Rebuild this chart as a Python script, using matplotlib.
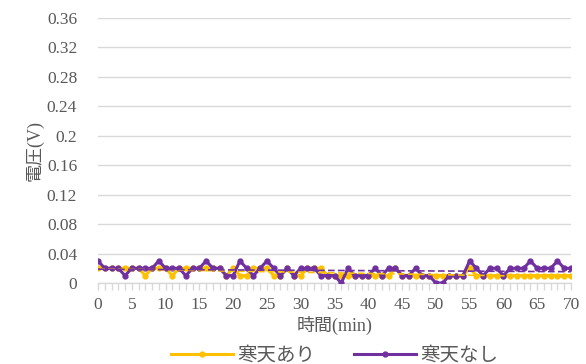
import numpy as np
import matplotlib.pyplot as plt
from matplotlib.ticker import MultipleLocator, FuncFormatter

plt.rcParams['font.family'] = ['Liberation Serif', 'Noto Sans CJK JP']

minutes = list(range(0, 71))
with_agar = [0.02, 0.02, 0.02, 0.02, 0.02, 0.02, 0.02, 0.01, 0.02, 0.02,
             0.02, 0.01, 0.02, 0.02, 0.02, 0.02, 0.02, 0.02, 0.02, 0.01,
             0.02, 0.01, 0.01, 0.02, 0.02, 0.02, 0.01, 0.01, 0.02, 0.01,
             0.01, 0.02, 0.02, 0.02, 0.01, 0.01, 0.01, 0.01, 0.01, 0.01,
             0.01, 0.01, 0.01, 0.01, 0.02, 0.01, 0.01, 0.01, 0.01, 0.01,
             0.01, 0.01, 0.01, 0.01, 0.01, 0.02, 0.01, 0.01, 0.01, 0.01,
             0.01, 0.01, 0.01, 0.01, 0.01, 0.01, 0.01, 0.01, 0.01, 0.01,
             0.01]
without_agar = [0.03, 0.02, 0.02, 0.02, 0.01, 0.02, 0.02, 0.02, 0.02, 0.03,
                0.02, 0.02, 0.02, 0.01, 0.02, 0.02, 0.03, 0.02, 0.02, 0.01,
                0.01, 0.03, 0.02, 0.01, 0.02, 0.03, 0.02, 0.01, 0.02, 0.01,
                0.02, 0.02, 0.02, 0.01, 0.01, 0.01, 0.00, 0.02, 0.01, 0.01,
                0.01, 0.02, 0.01, 0.02, 0.02, 0.01, 0.01, 0.02, 0.01, 0.01,
                0.00, 0.00, 0.01, 0.01, 0.01, 0.03, 0.02, 0.01, 0.02, 0.02,
                0.01, 0.02, 0.02, 0.02, 0.03, 0.02, 0.02, 0.02, 0.03, 0.02,
                0.02]
labels = ['寒天あり', '寒天なし']
colors = ['#FFC000', '#7030A0']

fig = plt.figure(figsize=(5.86, 3.64), dpi=100)
ax = fig.add_axes([98 / 586, 1 - 283 / 364, 473 / 586, 265 / 364])

x = np.array(minutes)
for ys, lab, c in zip([with_agar, without_agar], labels, colors):
    ax.plot(x, ys, color=c, lw=2.2, marker='o', ms=3.5, label=lab, zorder=3)
    # linear trend line
    k, b = np.polyfit(x, ys, 1)
    ax.plot(x, k * x + b, color=c, lw=1.2, ls=(0, (4, 2)), zorder=4)

ax.set_xlim(0, 70)
ax.set_ylim(0, 0.36)
ax.yaxis.set_major_locator(MultipleLocator(0.04))
ax.yaxis.set_major_formatter(FuncFormatter(lambda v, p: ('%.2f' % v).rstrip('0').rstrip('.') if v else '0'))
ax.xaxis.set_major_locator(MultipleLocator(5))
ax.xaxis.set_minor_locator(MultipleLocator(1))

ax.grid(axis='y', color='#D9D9D9', lw=1)
ax.set_axisbelow(True)
for s in ['top', 'right', 'left']:
    ax.spines[s].set_visible(False)
ax.spines['bottom'].set_color('#D9D9D9')
ax.spines['bottom'].set_linewidth(1)
ax.tick_params(axis='y', length=0, labelsize=12.5, labelcolor='#595959', pad=15)
ax.tick_params(axis='x', which='both', length=5, color='#D9D9D9', width=1,
               labelsize=12.5, labelcolor='#595959', pad=5)

ax.set_xlabel('時間(min)', fontsize=13, color='#595959', labelpad=2)
ax.set_ylabel('電圧(V)', fontsize=13, color='#595959', labelpad=2)

ax.legend(loc='upper center', bbox_to_anchor=(0.5, -0.24), ncol=2, frameon=False,
          fontsize=14, labelcolor='#595959', handlelength=3.2, columnspacing=2,
          handletextpad=0.2, borderaxespad=0, borderpad=0)

fig.savefig('out.png', dpi=100, facecolor='white')
